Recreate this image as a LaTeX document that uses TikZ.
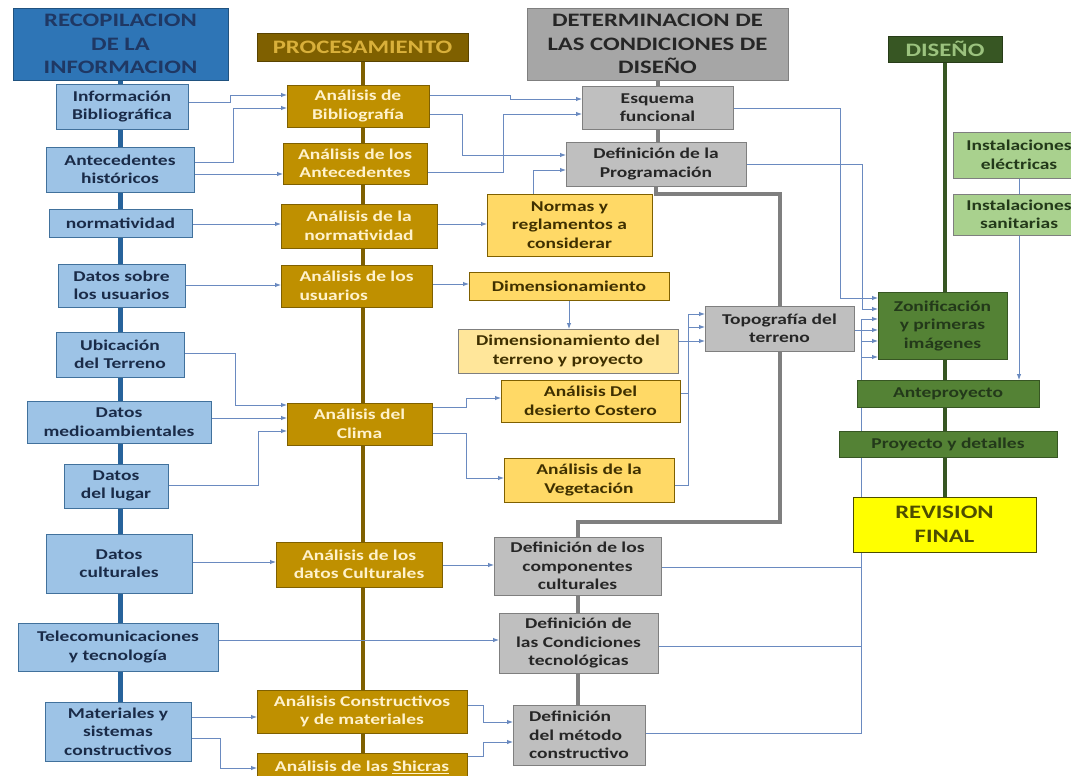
\documentclass[tikz,border=0pt]{standalone}
\usepackage{fontspec}
\setmainfont{Carlito}[FakeStretch=1.3]
\usetikzlibrary{arrows.meta,backgrounds}
\definecolor{hdblue}{HTML}{2E75B6}
\definecolor{hdbluetxt}{HTML}{1F3864}
\definecolor{lblue}{HTML}{9DC3E6}
\definecolor{bluedge}{HTML}{41719C}
\definecolor{bluetxt}{HTML}{1A2B48}
\definecolor{hdbrown}{HTML}{7F6000}
\definecolor{hdbrowntxt}{HTML}{D9B03A}
\definecolor{goldfill}{HTML}{BF9000}
\definecolor{goldtxt}{HTML}{FFF2CC}
\definecolor{hdgray}{HTML}{A6A6A6}
\definecolor{grayfill}{HTML}{BFBFBF}
\definecolor{grayedge}{HTML}{7F7F7F}
\definecolor{darktxt}{HTML}{262626}
\definecolor{yelfill}{HTML}{FFD966}
\definecolor{yelfillt}{HTML}{FFE69A}
\definecolor{yeltxt}{HTML}{3F3000}
\definecolor{hdgreen}{HTML}{375623}
\definecolor{hdgreentxt}{HTML}{9BC27E}
\definecolor{grnfill}{HTML}{548235}
\definecolor{grntxt}{HTML}{23391A}
\definecolor{lgreen}{HTML}{A9D18E}
\definecolor{revfill}{HTML}{FFFF00}
\definecolor{revtxt}{HTML}{4D4D00}
\definecolor{conncol}{HTML}{6A8AC0}
\newcommand\bx[7]{%
  \pgfmathsetmacro\bxcx{(#3+#5)/2}%
  \pgfmathsetmacro\bxcy{(#4+#6)/2}%
  \pgfmathsetmacro\bxw{#5-#3}%
  \pgfmathsetmacro\bxh{#6-#4}%
  \node[#2,minimum width=\bxw pt,minimum height=\bxh pt] (#1) at (\bxcx,\bxcy) {#7};}
\tikzset{
  base/.style={draw, line width=0.8pt, inner sep=0pt, outer sep=0pt, align=center,
    font=\bfseries\fontsize{15}{18.5}\selectfont},
  hdr/.style={base, font=\bfseries\fontsize{19}{23.5}\selectfont},
  hdrblue/.style={hdr, fill=hdblue, draw=hdblue!70!black, text=hdbluetxt},
  hdrbrown/.style={hdr, fill=hdbrown, draw=hdbrown!70!black, text=hdbrowntxt},
  hdrgray/.style={hdr, fill=hdgray, draw=grayedge, text=darktxt},
  hdrgreen/.style={hdr, fill=hdgreen, draw=hdgreen!70!black, text=hdgreentxt},
  blu/.style={base, fill=lblue, draw=bluedge, text=bluetxt},
  gold/.style={base, fill=goldfill, draw=hdbrown, text=goldtxt},
  gry/.style={base, fill=grayfill, draw=grayedge, text=darktxt},
  yel/.style={base, fill=yelfill, draw=hdbrown, text=yeltxt},
  yelt/.style={base, fill=yelfillt, draw=grayedge, text=yeltxt},
  grn/.style={base, fill=grnfill, draw=hdgreen, text=grntxt},
  lgrn/.style={base, fill=lgreen, draw=grayedge, text=grntxt},
  revst/.style={hdr, fill=revfill, draw=revtxt, text=revtxt},
  conn/.style={draw=conncol, line width=0.9pt, -{Latex[length=6pt,width=4.5pt]}},
  link/.style={draw=conncol, line width=0.9pt},
  bluespine/.style={draw=hdblue!85!black, line width=5pt},
  brownspine/.style={draw=hdbrown, line width=4pt},
  grayspine/.style={draw=grayedge, line width=4pt},
  greenspine/.style={draw=hdgreen, line width=4.5pt},
}
\begin{document}
\begin{tikzpicture}[x=1pt,y=-1pt]
\useasboundingbox (0,0) rectangle (1071,776);
% column 1
\bx{rec}{hdrblue}{13}{8}{228}{80}{RECOPILACION\\DE LA\\INFORMACION}
\bx{ib}{blu}{56}{84}{188}{129}{Información\\Bibliográfica}
\bx{ah}{blu}{46}{147}{194}{192}{Antecedentes\\históricos}
\bx{nor}{blu}{49}{209}{192}{237}{normatividad}
\bx{du}{blu}{58}{264}{185}{307}{Datos sobre\\los usuarios}
\bx{ut}{blu}{56}{332}{184}{377}{Ubicación\\del Terreno}
\bx{dm}{blu}{27}{401}{211}{443}{Datos\\medioambientales}
\bx{dl}{blu}{64}{464}{168}{508}{Datos\\del lugar}
\bx{dc}{blu}{46}{534}{192}{593}{Datos\\culturales}
\bx{tel}{blu}{18}{623}{218}{671}{Telecomunicaciones\\y tecnología}
\bx{mat}{blu}{45}{702}{191}{761}{Materiales y\\sistemas\\constructivos}
% column 2
\bx{proc}{hdrbrown}{257}{33}{468}{61}{PROCESAMIENTO}
\bx{abib}{gold}{287}{85}{429}{127}{Análisis de\\Bibliografía}
\bx{aant}{gold}{283}{143}{427}{184}{Análisis de los\\Antecedentes}
\bx{anor}{gold}{281}{204}{437}{248}{Análisis de la\\normatividad}
\bx{ausu}{gold,align=left}{281}{265}{432}{307}{Análisis de los\\usuarios}
\bx{acli}{gold}{287}{403}{432}{445}{Análisis del\\Clima}
\bx{acul}{gold}{276}{542}{442}{587}{Análisis de los\\datos Culturales}
\bx{acon}{gold}{257}{690}{467}{733}{Análisis Constructivos\\y de materiales}
\bx{ashi}{gold}{257}{753}{467}{781}{Análisis de las \underline{Shicras}}
% column 3
\bx{det}{hdrgray}{527}{8}{788}{80}{DETERMINACION DE\\LAS CONDICIONES DE\\DISEÑO}
\bx{esq}{gry}{582}{86}{733}{129}{Esquema\\funcional}
\bx{dprog}{gry}{566}{142}{746}{186}{Definición de la\\Programación}
\bx{norm}{yel}{487}{194}{652}{256}{Normas y\\reglamentos a\\considerar}
\bx{dim}{yel}{469}{272}{669}{300}{Dimensionamiento}
\bx{dimt}{yelt}{458}{329}{678}{373}{Dimensionamiento del\\terreno y proyecto}
\bx{des}{yel}{501}{380}{680}{422}{Análisis Del\\desierto Costero}
\bx{veg}{yel}{504}{458}{674}{502}{Análisis de la\\Vegetación}
\bx{topo}{gry}{705}{306}{854}{351}{Topografía del\\terreno}
\bx{dcomp}{gry}{494}{537}{661}{595}{Definición de los\\componentes\\culturales}
\bx{dcond}{gry}{499}{613}{658}{673}{Definición de\\las Condiciones\\tecnológicas}
\bx{met}{gry,align=left}{513}{705}{645}{765}{Definición\\del método\\constructivo}
% column 4
\bx{dis}{hdrgreen}{888}{36}{1002}{62}{DISEÑO}
\bx{iel}{lgrn}{953}{132}{1085}{178}{Instalaciones\\eléctricas}
\bx{isan}{lgrn}{953}{194}{1085}{235}{Instalaciones\\sanitarias}
\bx{zon}{grn}{878}{292}{1007}{359}{Zonificación\\y primeras\\imágenes}
\bx{ante}{grn}{857}{380}{1039}{407}{Anteproyecto}
\bx{proy}{grn}{839}{431}{1057}{457}{Proyecto y detalles}
\bx{rev}{revst}{853}{497}{1036}{552}{REVISION\\FINAL}

\begin{scope}[on background layer]
\fill[white] (0,0) rectangle (1071,776);
% spines
\draw[bluespine] (rec.south) -- (rec.south |- mat.north);
\draw[brownspine] (proc.south) -- (proc.south |- ashi.north);
\draw[grayspine] (det.south) -- (det.south |- dprog.north);
\draw[grayspine] (dprog.south) -- ++(0,8) -| (topo.north);
\draw[grayspine] (topo.south) -- (topo.south |- 0,522) -| (dcomp.north);
\draw[grayspine] (dcomp.south) -- (dcomp.south |- met.north);
\draw[greenspine] (dis.south) -- (dis.south |- rev.north);
\draw[link] (iel.south) -- (isan.north);
\draw[conn] (isan.south) -- (isan.south |- ante.north);
% column 1 -> 2
\draw[conn] (ib.east |- 0,102) -- (230,102) -- (230,95) -- (abib.west |- 0,95);
\draw[conn] (ah.east |- 0,162) -- (233,162) -- (233,108) -- (abib.west |- 0,108);
\draw[conn] (ah.east |- 0,174) -- (aant.west |- 0,174);
\draw[conn] (nor.east |- 0,224) -- (anor.west |- 0,224);
\draw[conn] (du.east |- 0,285) -- (ausu.west |- 0,285);
\draw[conn] (ut.east |- 0,353) -- (235,353) -- (235,405) -- (acli.west |- 0,405);
\draw[conn] (dm.east |- 0,418) -- (acli.west |- 0,418);
\draw[conn] (dl.east |- 0,485) -- (258,485) -- (258,431) -- (acli.west |- 0,431);
\draw[conn] (dc.east |- 0,562) -- (acul.west |- 0,562);
\draw[conn] (tel.east |- 0,640) -- (dcond.west |- 0,640);
\draw[conn] (mat.east |- 0,717) -- (acon.west |- 0,717);
\draw[conn] (mat.east |- 0,738) -- (220,738) -- (220,768) -- (ashi.west |- 0,768);
% column 2 -> 3
\draw[conn] (abib.east |- 0,95) -- (510,95) -- (510,99) -- (esq.west |- 0,99);
\draw[conn] (abib.east |- 0,114) -- (462,114) -- (462,155) -- (dprog.west |- 0,155);
\draw[conn] (aant.east |- 0,172) -- (503,172) -- (503,114) -- (esq.west |- 0,114);
\draw[conn] (anor.east |- 0,224) -- (norm.west |- 0,224);
\draw[conn] (norm.north -| 533,0) -- (533,170) -- (dprog.west |- 0,170);
\draw[conn] (ausu.east |- 0,284) -- (dim.west |- 0,284);
\draw[conn] (dim.south) -- (dimt.north -| dim.south);
\draw[conn] (acli.east |- 0,407) -- (466,407) -- (466,398) -- (des.west |- 0,398);
\draw[conn] (acli.east |- 0,433) -- (466,433) -- (466,478) -- (veg.west |- 0,478);
\draw[conn] (acul.east |- 0,565) -- (dcomp.west |- 0,565);
\draw[conn] (acon.east |- 0,705) -- (483,705) -- (483,722) -- (met.west |- 0,722);
\draw[conn] (ashi.east |- 0,756) -- (483,756) -- (483,742) -- (met.west |- 0,742);
% into Topografia
\draw[conn] (dimt.east |- 0,341) -- (topo.west |- 0,341);
\draw[conn] (des.east |- 0,393) -- (688,393) -- (688,327) -- (topo.west |- 0,327);
\draw[conn] (veg.east |- 0,485) -- (688,485) -- (688,314) -- (topo.west |- 0,314);
% into Zonificacion
\draw[conn] (esq.east |- 0,108) -- (840,108) -- (840,298) -- (zon.west |- 0,298);
\draw[conn] (dprog.east |- 0,164) -- (862,164) -- (862,309) -- (zon.west |- 0,309);
\draw[conn] (dcomp.east |- 0,567) -- (861,567) -- (861,319) -- (zon.west |- 0,319);
\draw[conn] (topo.east |- 0,330) -- (zon.west |- 0,330);
\draw[conn] (dcond.east |- 0,646) -- (861,646) -- (861,341) -- (zon.west |- 0,341);
\draw[conn] (met.east |- 0,733) -- (861,733) -- (861,357) -- (zon.west |- 0,357);
\end{scope}
\end{tikzpicture}
\end{document}
